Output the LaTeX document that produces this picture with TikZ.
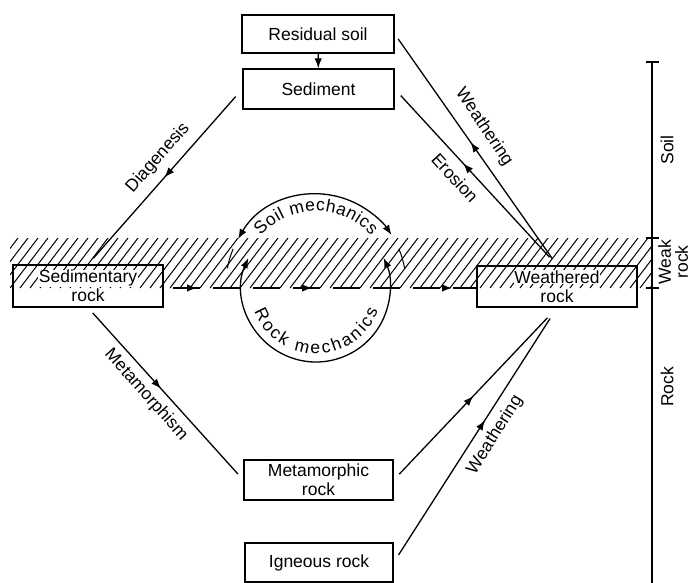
\documentclass[tikz,border=0pt]{standalone}
\usepackage{fontspec}
\setmainfont{Liberation Sans}
\usetikzlibrary{arrows.meta,decorations.markings,decorations.text,calc}
\newcommand\wbx[1]{{\setlength{\fboxsep}{0.5pt}\colorbox{white}{#1}}}
\begin{document}
\begin{tikzpicture}[x=1pt,y=1pt,
  font=\fontsize{17.5}{19}\selectfont,
  box/.style={draw, line width=1.4pt, align=center, inner sep=0pt},
  conn/.style={line width=1.3pt},
  tip/.style={-{Latex[length=10pt,width=7.5pt]}},
  both/.style={{Latex[length=10pt,width=7.5pt]}-{Latex[length=10pt,width=7.5pt]}},
  midarrow/.style={postaction={decorate}, decoration={markings, mark=at position #1 with {\arrow{Latex[length=10pt,width=7.5pt]}}}},
  hatchline/.style={line width=1pt},
  lbl/.style={inner sep=1pt},
]
\useasboundingbox (0,0) rectangle (693,-583);

% hatched weak-rock band
\begin{scope}
  \clip (10,-238) rectangle (652,-288);
  \foreach \x in {-40,-30,...,660} \draw[hatchline] (\x,-288) -- ++(38,50);
\end{scope}

% boxes
\node[box, minimum width=152pt, minimum height=38pt] (residual) at (318,-34) {Residual soil};
\node[box, minimum width=151pt, minimum height=40pt] (sediment) at (318.5,-89) {Sediment};
\node[box, minimum width=150pt, minimum height=42pt] (sedrock) at (88,-286) {\wbx{Sedimentary}\\\wbx{rock}};
\node[box, minimum width=160pt, minimum height=41pt] (weath) at (557,-286.5) {\wbx{Weathered}\\\wbx{rock}};
\node[box, minimum width=149pt, minimum height=40pt] (meta) at (318.5,-480) {Metamorphic\\rock};
\node[box, minimum width=148pt, minimum height=39pt] (igneous) at (319,-562.5) {Igneous rock};

% connectors
\draw[conn, tip] (residual) -- (sediment);
\draw[conn, midarrow=0.5] ($(sediment.west)!10pt!(sedrock.north)$) -- ($(sedrock.north)!8pt!(sediment.west)$);
\draw[conn, midarrow=0.47] ($(sedrock.south)!7pt!(meta.west)$) -- ($(meta.west)!8pt!(sedrock.south)$);
\draw[conn, midarrow=0.5] ($(meta.east)!8pt!(weath.south)$) -- ($(weath.south)!14pt!(meta.east)$);
\draw[conn, midarrow=0.57] ($(igneous.east)!9pt!(weath.south)$) -- ($(weath.south)!13pt!(igneous.east)$);
\draw[conn, midarrow=0.53] ($(weath.north)!8pt!(residual.east)$) -- ($(residual.east)!6pt!(weath.north)$);
\draw[conn, midarrow=0.58] ($(weath.north)!11pt!(sediment.east)$) -- ($(sediment.east)!9pt!(weath.north)$);

% dashed lower boundary of band with arrows
\coordinate (dstart) at (173,-288);
\draw[conn, dash pattern=on 27pt off 13pt,
  postaction={decorate}, decoration={markings,
    mark=at position 24pt with {\arrow{Latex[length=10pt,width=7.5pt]}},
    mark=at position 139pt with {\arrow{Latex[length=10pt,width=7.5pt]}},
    mark=at position 279pt with {\arrow{Latex[length=10pt,width=7.5pt]}}}]
  (dstart) -- (dstart -| weath.west);

% soil / rock mechanics arcs
\coordinate (cTop) at (316,-284);
\coordinate (cBot) at (316,-288);
\draw[conn, both] ([shift={(150:90pt)}]cTop) arc[start angle=150, end angle=33, radius=90pt];
\draw[conn, both] ([shift={(156:74pt)}]cBot) arc[start angle=156, end angle=384, radius=74pt];
\draw[hatchline] ([shift={(157:90pt)}]cTop) arc[start angle=157, end angle=170, radius=90pt];
\draw[hatchline] ([shift={(23:90pt)}]cTop) arc[start angle=23, end angle=10, radius=90pt];
\path[decorate, decoration={text along path, text={|\fontsize{17.5}{19}\selectfont|Soil mechanics}, text align={fit to path}}]
  ([shift={(139:73pt)}]cTop) arc[start angle=139, end angle=41, radius=73pt];
\path[decorate, decoration={text along path, text={|\fontsize{17.5}{19}\selectfont|Rock mechanics}, text align={fit to path}}]
  ([shift={(201:66pt)}]cBot) arc[start angle=201, end angle=340, radius=66pt];

% connector labels
\node[lbl, rotate=48.6] (ldiag) at (158,-158) {Diagenesis};
\node[lbl, rotate=-48.2] (lmeta) at (146,-395) {Metamorphism};
\node[lbl, rotate=57.9] (lweat2) at (495,-435) {Weathering};
\node[lbl, rotate=-56] (lweat1) at (484,-127) {Weathering};
\node[lbl, rotate=-47.5] (lero) at (455,-178) {Erosion};

% right-hand scale
\coordinate (sTop) at (652,-62);
\coordinate (sBot) at (652,-583);
\draw[conn] (sTop) -- (sBot);
\draw[conn] (646,-62) -- (659,-62);
\draw[conn] (646,-238) -- (659,-238);
\draw[conn] (646,-288) -- (659,-288);
\node[lbl, rotate=90] (lsoil) at (667,-150) {Soil};
\node[lbl, rotate=90, align=center, font=\fontsize{17.5}{17}\selectfont] (lweak) at (673,-262) {Weak\\rock};
\node[lbl, rotate=90] (lrock) at (667,-387) {Rock};
\end{tikzpicture}
\end{document}
